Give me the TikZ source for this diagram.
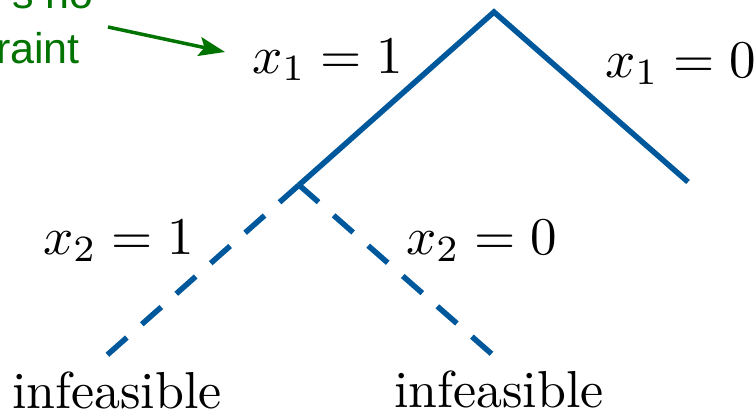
\documentclass[tikz,border=0pt]{standalone}
\usepackage{fontspec}
\newfontfamily\greenfont{Liberation Sans}
\usetikzlibrary{arrows.meta}
\definecolor{treeblue}{RGB}{0,88,156}
\definecolor{notegreen}{RGB}{0,115,0}
\tikzset{
  branch/.style={draw=treeblue, line width=5.5pt, line join=miter, line cap=butt},
  dashbranch/.style={branch, dash pattern=on 26pt off 20pt},
  mathlabel/.style={inner sep=0pt, anchor=base west, scale=5.3, font=\fontsize{10}{12}\selectfont},
  textlabel/.style={inner sep=0pt, anchor=base west, scale=5.2, font=\fontsize{10}{12}\selectfont},
  notetext/.style={inner sep=0pt, anchor=base east, text=notegreen, font=\greenfont\fontsize{43}{50}\selectfont},
  notearrow/.style={draw=notegreen, line width=3.5pt, -{Stealth[length=26pt, width=19pt, inset=5pt]}}
}
\begin{document}
\begin{tikzpicture}[x=1pt, y=-1pt]
\useasboundingbox (0,0) rectangle (756,418);
\begin{scope}
\clip (0,0) rectangle (756,418);
% tree points
\coordinate (root) at (494,12);
\coordinate (j) at (299,185);
\coordinate (r) at (688,182);
\coordinate (ll) at (106,356);
\coordinate (lr) at (494,356);
% branches
\draw[branch] (j) -- (root) -- (r);
\draw[dashbranch] (j) -- (ll);
\draw[dashbranch] (j) -- (lr);
% labels
\node[mathlabel] (l1) at (251,73) {$x_1 = 1$};
\node[mathlabel] (l0) at (604,77) {$x_1 = 0$};
\node[mathlabel] (m1) at (42,254) {$x_2 = 1$};
\node[mathlabel] (m0) at (405,254) {$x_2 = 0$};
\node[textlabel] (inf1) at (11,408) {infeasible};
\node[textlabel] (inf2) at (393,407) {infeasible};
% green note
\node[notetext] (n1) at (94,8) {s no};
\node[notetext] (n2) at (80,63) {raint};
\coordinate (a0) at (108,27);
\coordinate (a1) at (225,52);
\draw[notearrow] (a0) -- (a1);
\end{scope}
\end{tikzpicture}
\end{document}
